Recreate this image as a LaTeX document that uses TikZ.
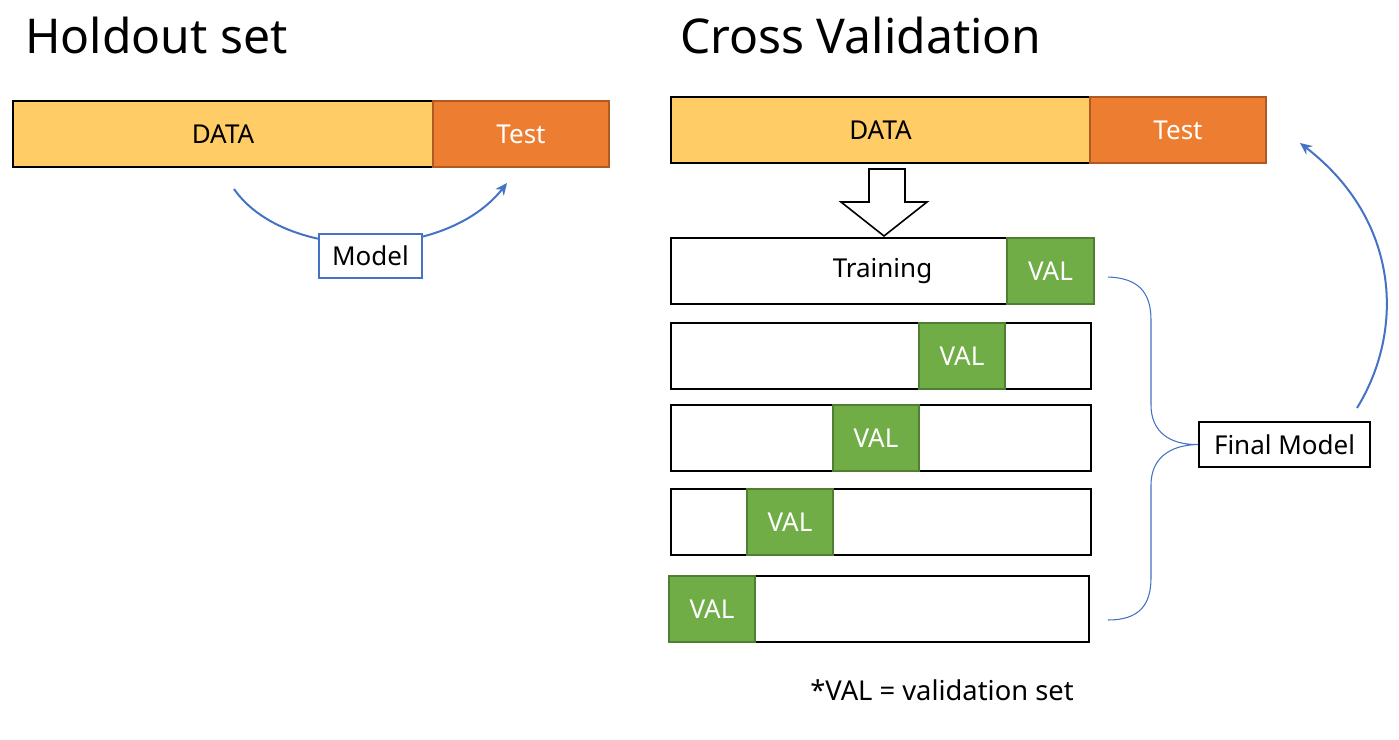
\documentclass[tikz,border=0pt]{standalone}
\usepackage{fontspec}
\setmainfont{Noto Sans}
\usetikzlibrary{arrows.meta}
\definecolor{dataY}{HTML}{FFCC66}
\definecolor{testO}{HTML}{ED7D31}
\definecolor{testB}{HTML}{AE5A21}
\definecolor{valG}{HTML}{70AD47}
\definecolor{valB}{HTML}{507E32}
\definecolor{blu}{HTML}{4472C4}
\newcommand\lblfont{\fontsize{19.5pt}{23pt}\selectfont}
\newcommand\ttlfont{\fontsize{36pt}{42pt}\selectfont}
\tikzset{
  bar/.style={draw=black, line width=1.5pt, minimum height=49.5pt, inner sep=0pt, font=\lblfont},
  databar/.style={bar, fill=dataY},
  testbar/.style={bar, draw=testB, line width=1.2pt, fill=testO, text=white, minimum width=132pt},
  rowbar/.style={bar, fill=white, minimum width=315pt},
  valbox/.style={bar, draw=valB, line width=1.2pt, fill=valG, text=white, minimum width=64.5pt},
  lblbox/.style={draw, line width=1.6pt, fill=white, inner sep=0pt, font=\lblfont},
  bluearrow/.style={draw=blu, line width=1.5pt, -{Stealth[length=9pt,width=8pt]}},
  title/.style={font=\ttlfont, anchor=base west, inner sep=0pt},
}
\begin{document}
\begin{tikzpicture}[x=0.75pt,y=-0.75pt]
\useasboundingbox (0,0) rectangle (1399,739);
% titles
\node[title] (t1) at (25,53) {Holdout set};
\node[title] (t2) at (680,53) {Cross Validation};
% holdout
\node[databar, minimum width=315pt] (hdata) at (223,134) {DATA};
\node[testbar] (htest) at (521,134) {Test};
\coordinate (hs) at (234,189);
\coordinate (he) at (507,183);
\draw[bluearrow] (hs) .. controls (285,262) and (445,262) .. (he);
\node[lblbox, draw=blu, line width=2pt, minimum width=77.25pt, minimum height=33pt] (model) at (370.5,256) {Model};
% cross validation
\node[databar, minimum width=314.25pt] (cdata) at (880.5,130) {DATA};
\node[testbar] (ctest) at (1178,130) {Test};
\draw[line width=1.2pt, fill=white] (869,169) -- (905,169) -- (905,202) -- (927,202) -- (884,236) -- (841,202) -- (869,202) -- cycle;
\node[rowbar, minimum width=317.25pt] (r1) at (882.5,271) {Training};
\node[valbox, minimum width=65.25pt] (v1) at (1050.5,271) {VAL};
\node[rowbar] (r2) at (881,356) {};
\node[valbox] (v2) at (962,356) {VAL};
\node[rowbar] (r3) at (881,438) {};
\node[valbox] (v3) at (876,438) {VAL};
\node[rowbar] (r4) at (881,522) {};
\node[valbox] (v4) at (790,522) {VAL};
\node[rowbar] (r5) at (879,609) {};
\node[valbox] (v5) at (712,609) {VAL};
% final model
\node[lblbox, minimum width=128.25pt, minimum height=33.75pt] (final) at (1284.5,444.5) {Final Model};
% brace
\coordinate (bt) at (1108,277);
\coordinate (bb) at (1108,620);
\draw[blu, line width=0.8pt] (bt) .. controls (1138,278) and (1151,292) .. (1151,320) -- (1151,405)
  .. controls (1151,432) and (1170,445) .. (final.west)
  .. controls (1170,445) and (1151,458) .. (1151,485) -- (1151,578)
  .. controls (1151,606) and (1138,620) .. (bb);
% right arrow
\coordinate (fs) at (1357,408);
\coordinate (fe) at (1300,143);
\draw[bluearrow] (fs) .. controls (1405,330) and (1400,220) .. (fe);
% footnote
\node[font=\fontsize{20.5pt}{24pt}\selectfont, inner sep=0pt] (note) at (942,690) {*VAL = validation set};
\end{tikzpicture}
\end{document}
